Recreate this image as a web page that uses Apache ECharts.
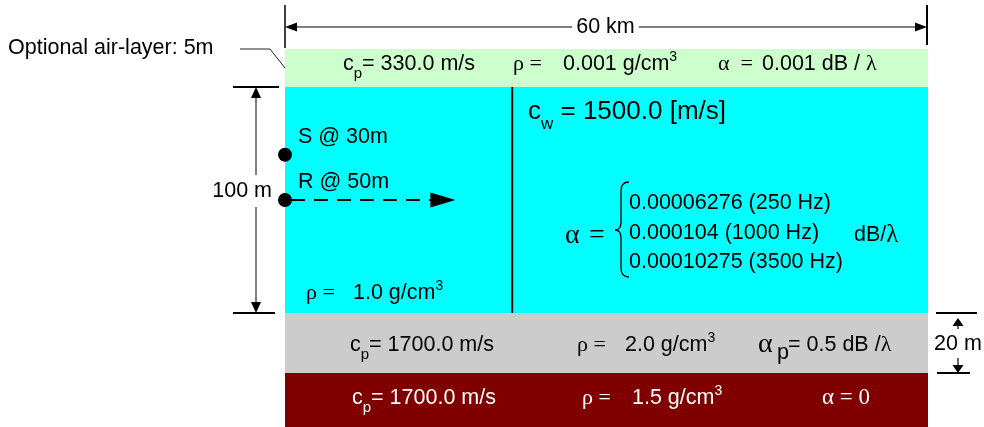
<!DOCTYPE html>
<html><head><meta charset="utf-8">
<script src="https://cdn.jsdelivr.net/npm/echarts@6/dist/echarts.min.js"></script>
<style>html,body{margin:0;padding:0;background:#fff}#c{width:984px;height:427px}</style>
</head><body><div id="c"></div>
<script>
// ---------- data ----------
const layerNames = ['Air', 'Water', 'Sediment', 'Basement'];
const layerTopM = [-5, 0, 100, 120];
const layerBottomM = [0, 100, 120, 135];   // basement is a half-space; 15 m shown
const rangeKm = [0, 60];
const sourceDepthM = 30;
const receiverDepthM = 50;
const pointDepthsM = [sourceDepthM, receiverDepthM];
const pointLabels = ['S @ 30m', 'R @ 50m'];
const dividerRangeKm = 21.2;
const propagationArrowEndKm = 15.9;
const waterAlpha = ['0.00006276 (250 Hz)', '0.000104 (1000 Hz)', '0.00010275 (3500 Hz)'];

// ---------- styles / layout ----------
const layerColors = ['#ccffcc', '#00ffff', '#cccccc', '#800000'];
const gridLayout = [{top: 49, height: 38}, {top: 87, height: 226}, {top: 313, height: 60}, {top: 373, height: 54}];
const SANS = "'Liberation Sans', Arial, sans-serif";
const SERIF = "'Liberation Serif', 'Times New Roman', serif";
const FS = 21.5;

const chart = echarts.init(document.getElementById('c'), null, {renderer: 'canvas'});

const grids = gridLayout.map(g => ({left: 285, width: 643, top: g.top, height: g.height}));
const xAxes = grids.map((g, i) => ({gridIndex: i, type: 'value', min: rangeKm[0], max: rangeKm[1], show: false}));
const yAxes = grids.map((g, i) => ({gridIndex: i, type: 'value', inverse: true, min: layerTopM[i], max: layerBottomM[i], show: false}));

const layerSeries = layerNames.map((n, i) => ({
  type: 'custom', name: n, xAxisIndex: i, yAxisIndex: i, z: 1,
  encode: {x: [0, 2], y: [1, 3]},
  data: [[rangeKm[0], layerTopM[i], rangeKm[1], layerBottomM[i]]],
  renderItem: (params, api) => {
    const p0 = api.coord([api.value(0), api.value(1)]);
    const p1 = api.coord([api.value(2), api.value(3)]);
    return {type: 'rect', shape: {x: p0[0], y: p0[1], width: p1[0] - p0[0], height: p1[1] - p0[1]}, style: {fill: layerColors[i]}};
  }
}));

chart.setOption({
  animation: false,
  backgroundColor: '#fff',
  grid: grids, xAxis: xAxes, yAxis: yAxes,
  series: layerSeries.concat([
    {type: 'line', xAxisIndex: 1, yAxisIndex: 1, z: 3, symbol: 'none', silent: true,
     data: [[dividerRangeKm, layerTopM[1]], [dividerRangeKm, layerBottomM[1]]],
     lineStyle: {color: '#000', width: 2}},
    {type: 'custom', xAxisIndex: 1, yAxisIndex: 1, z: 4, clip: false,
     data: [[rangeKm[0], receiverDepthM, propagationArrowEndKm]],
     renderItem: (params, api) => {
       const a = api.coord([api.value(0), api.value(1)]);
       const b = api.coord([api.value(2), api.value(1)]);
       return {type: 'group', children: [
         {type: 'line', shape: {x1: a[0] + 6, y1: a[1], x2: b[0] - 24, y2: b[1]}, style: {stroke: '#000', lineWidth: 1.8, lineDash: [14, 9]}},
         {type: 'polygon', shape: {points: [[b[0], b[1]], [b[0] - 25, b[1] - 7.5], [b[0] - 25, b[1] + 7.5]]}, style: {fill: '#000'}}
       ]};
     }},
    {type: 'scatter', xAxisIndex: 1, yAxisIndex: 1, z: 5, clip: false, symbolSize: 14,
     itemStyle: {color: '#000', opacity: 1},
     data: pointDepthsM.map(d => [rangeKm[0], d]),
     label: {show: true, position: 'right', distance: 6, offset: [0, -18], color: '#000',
             fontFamily: SANS, fontSize: FS, formatter: p => pointLabels[p.dataIndex]}}
  ])
});

// ---------- annotations ----------
const mctx = document.createElement('canvas').getContext('2d');
function tw(t, font) { mctx.font = font; return mctx.measureText(t).width; }
function run(y, parts, fill) {
  const els = []; let cx = 0;
  parts.forEach(p => {
    const font = (p.s || FS) + 'px ' + (p.f || SANS);
    if (p.x !== undefined) cx = p.x;
    cx += (p.g || 0);
    els.push({type: 'text', silent: true, z: 10, x: cx, y: y + (p.dy || 0),
      style: {text: p.t, font: font, fill: fill || '#000', align: 'left', verticalAlign: 'middle'}});
    cx += tw(p.t, font);
  });
  return els;
}
function ln(x1, y1, x2, y2, w, c) { return {type: 'line', silent: true, z: 10, shape: {x1, y1, x2, y2}, style: {stroke: c || '#000', lineWidth: w || 1}}; }
function tri(pts) { return {type: 'polygon', silent: true, z: 10, shape: {points: pts}, style: {fill: '#000'}}; }
function qc(x1, y1, cx, cy, x2, y2) { return {type: 'bezierCurve', silent: true, z: 10, shape: {x1, y1, cpx1: cx, cpy1: cy, x2, y2}, style: {stroke: '#000', lineWidth: 1.3, fill: null}}; }

const px = (g, p) => chart.convertToPixel({gridIndex: g}, p);
const xL = px(0, [rangeKm[0], 0])[0], xR = px(0, [rangeKm[1], 0])[0];
const yAirTop = px(0, [0, layerTopM[0]])[1];
const yWT = px(1, [0, layerTopM[1]])[1], yWB = px(1, [0, layerBottomM[1]])[1];
const yST = px(2, [0, layerTopM[2]])[1], ySB = px(2, [0, layerBottomM[2]])[1];

const yD = 27;
let G = [];
// top dimension
G.push(ln(xL, 5, xL, yAirTop - 1, 1.5), ln(xR - 1, 5, xR - 1, 45, 2));
G.push(ln(xL + 10, yD, xR - 10, yD, 1), tri([[xL, yD], [xL + 12, yD - 4.5], [xL + 12, yD + 4.5]]), tri([[xR - 1, yD], [xR - 13, yD - 4.5], [xR - 13, yD + 4.5]]));
G.push({type: 'text', silent: true, z: 11, x: (xL + xR) / 2 - 1, y: yD,
  style: {text: (rangeKm[1] - rangeKm[0]) + ' km', font: FS + 'px ' + SANS, fill: '#000', backgroundColor: '#fff', padding: [0, 4],
          align: 'center', verticalAlign: 'middle'}});
// air-layer leader
G = G.concat(run(48, [{t: 'Optional air-layer: ' + (layerBottomM[0] - layerTopM[0]) + 'm', x: 8}]));
G.push({type: 'polyline', silent: true, z: 10, shape: {points: [[240, 49], [270, 49], [xL, 68]]}, style: {stroke: '#222', lineWidth: 1, fill: null}});
// left dimension (water depth)
const xV = 256;
G.push(ln(233, yWT, 279, yWT, 2), ln(233, yWB, 275, yWB, 2), ln(xV, yWT + 8, xV, yWB - 8, 1));
G.push(tri([[xV, yWT], [xV - 5, yWT + 11], [xV + 5, yWT + 11]]), tri([[xV, yWB], [xV - 5, yWB - 11], [xV + 5, yWB - 11]]));
G.push({type: 'text', silent: true, z: 11, x: 273, y: 191,
  style: {text: (layerBottomM[1] - layerTopM[1]) + ' m', font: FS + 'px ' + SANS, fill: '#000', backgroundColor: '#fff', padding: [5, 1],
          align: 'right', verticalAlign: 'middle'}});
// right dimension (sediment thickness)
const xS = 958;
G.push(ln(936, yST, 977, yST, 2), ln(937, ySB, 970, ySB, 2));
G.push(tri([[xS, yST + 5], [xS - 5.5, yST + 13], [xS + 5.5, yST + 13]]), ln(xS, yST + 12, xS, yST + 16, 1.2));
G.push(tri([[xS, ySB], [xS - 5.5, ySB - 8], [xS + 5.5, ySB - 8]]), ln(xS, ySB - 15, xS, ySB - 7, 1.2));
G.push({type: 'text', silent: true, z: 11, x: xS, y: 344,
  style: {text: (layerBottomM[2] - layerTopM[2]) + ' m', font: FS + 'px ' + SANS, fill: '#000', align: 'center', verticalAlign: 'middle'}});

// air layer text
G = G.concat(run(64, [{t: 'c', x: 343}, {t: 'p', s: 15, dy: 10}, {t: '= 330.0 m/s'}]));
G = G.concat(run(64, [{t: 'ρ =', f: SERIF, s: 22, x: 513}, {t: '0.001 g/cm', x: 563}, {t: '3', s: 14, dy: -7}]));
G = G.concat(run(64, [{t: 'α  =', f: SERIF, s: 22, x: 718}, {t: '0.001 dB / ', x: 762}, {t: 'λ', f: SERIF, s: 22}]));
// water text
G = G.concat(run(112, [{t: 'c', s: 26, x: 528}, {t: 'w', s: 17, dy: 12}, {t: ' = 1500.0 [m/s]', s: 26}]));
G = G.concat(run(236, [{t: 'α', f: SERIF, s: 28, x: 565}, {t: '=', f: SERIF, s: 28, x: 589}]));
G.push(qc(629, 182, 621, 182, 621, 191), ln(621, 191, 621, 222, 1.3), qc(621, 222, 621, 230, 615, 230),
       qc(615, 230, 621, 230, 621, 238), ln(621, 238, 621, 268, 1.3), qc(621, 268, 621, 277, 629, 277));
G = G.concat(run(203, [{t: waterAlpha[0], x: 629}]));
G = G.concat(run(233, [{t: waterAlpha[1], x: 629}]));
G = G.concat(run(262, [{t: waterAlpha[2], x: 629}]));
G = G.concat(run(235, [{t: 'dB/', x: 854}, {t: 'λ', f: SERIF, s: 25}]));
G = G.concat(run(293, [{t: 'ρ =', f: SERIF, s: 22, x: 306}, {t: '1.0 g/cm', x: 353}, {t: '3', s: 14, dy: -7}]));
// sediment text
G = G.concat(run(345, [{t: 'c', x: 350}, {t: 'p', s: 15, dy: 10}, {t: '= 1700.0 m/s'}]));
G = G.concat(run(345, [{t: 'ρ =', f: SERIF, s: 22, x: 577}, {t: '2.0 g/cm', x: 625}, {t: '3', s: 14, dy: -7}]));
G = G.concat(run(345, [{t: 'α', f: SERIF, s: 28, x: 758}, {t: 'p', x: 777, dy: 8}, {t: '= 0.5 dB /', x: 788}, {t: 'λ', f: SERIF, s: 22}]));
// basement text
const W = '#fff';
G = G.concat(run(398, [{t: 'c', x: 352}, {t: 'p', s: 15, dy: 10}, {t: '= 1700.0 m/s'}], W));
G = G.concat(run(398, [{t: 'ρ =', f: SERIF, s: 22, x: 582}, {t: '1.5 g/cm', x: 632}, {t: '3', s: 14, dy: -7}], W));
G = G.concat(run(398, [{t: 'α = 0', f: SERIF, s: 23, x: 822}], W));

chart.setOption({graphic: {elements: G}});
</script></body></html>
